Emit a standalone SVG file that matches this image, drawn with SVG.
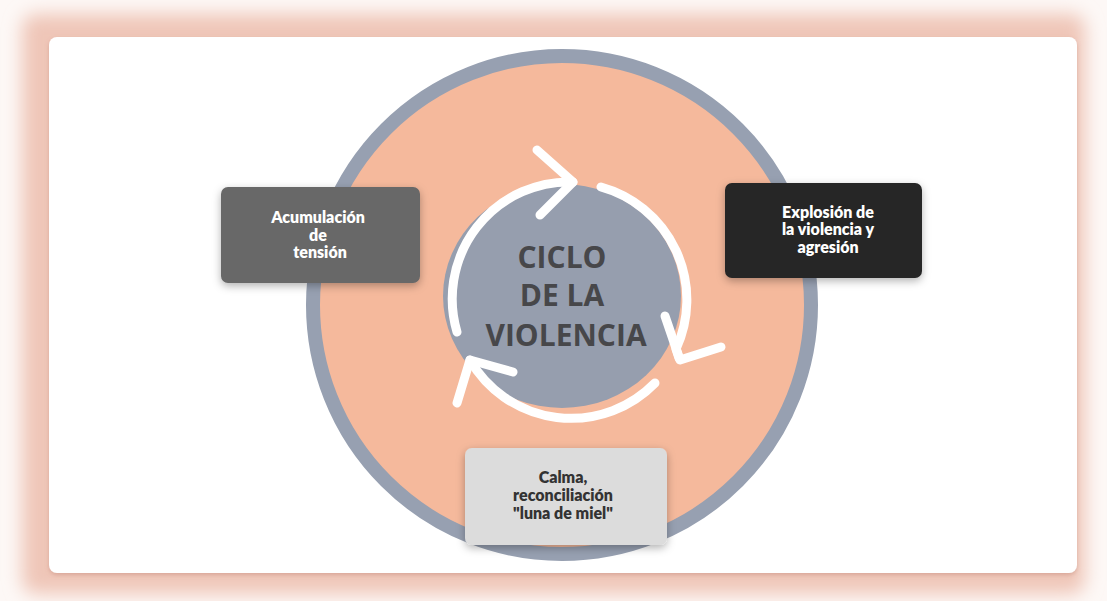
<svg xmlns="http://www.w3.org/2000/svg" width="1107" height="601" viewBox="0 0 1107 601">
  <defs>
    <filter id="glow" x="-10%" y="-10%" width="120%" height="120%">
      <feGaussianBlur stdDeviation="9"/>
    </filter>
    <filter id="shadow" x="-20%" y="-20%" width="140%" height="150%">
      <feDropShadow dx="0" dy="3" stdDeviation="4" flood-color="#000" flood-opacity="0.3"/>
    </filter>
    <filter id="cardshadow" x="-5%" y="-5%" width="110%" height="110%">
      <feDropShadow dx="0" dy="2" stdDeviation="2" flood-color="#b07060" flood-opacity="0.35"/>
    </filter>
  </defs>
  <style>
    .box-text { font-family: Lato, "Noto Sans", "DejaVu Sans", sans-serif; font-weight: 800; font-size: 16px; text-anchor: middle; }
    .title { font-family: "Open Sans", "Noto Sans", sans-serif; font-weight: 700; font-size: 30px; fill: #47474a; text-anchor: middle; }
    .arc { fill: none; stroke: #ffffff; stroke-width: 9; stroke-linecap: round; stroke-linejoin: round; }
  </style>

  <!-- background frame -->
  <rect x="0" y="0" width="1107" height="601" fill="#fdf8f6"/>
  <rect x="22" y="14" width="1063" height="580" rx="14" fill="#efc6b8" filter="url(#glow)"/>
  <rect x="49" y="37" width="1028" height="536" rx="8" fill="#ffffff" filter="url(#cardshadow)"/>

  <!-- big circle -->
  <g id="ring">
    <circle cx="562" cy="305" r="249" fill="#f5b99c" stroke="#97a0b1" stroke-width="14"/>
  </g>

  <!-- center -->
  <g id="center">
    <ellipse cx="562" cy="296" rx="119" ry="112" fill="#969eae"/>
    <text class="title" x="562" y="268">CICLO</text>
    <text class="title" x="562" y="306">DE LA</text>
    <text class="title" x="566" y="346">VIOLENCIA</text>
  </g>

  <!-- connectors -->
  <g id="connectors">
    <path class="arc" d="M457,332 A117,117 0 0 1 573,182"/>
    <polyline class="arc" points="537,150 573,182 540,215"/>
    <path class="arc" d="M601,187 A117,117 0 0 1 676,349 L679,358"/>
    <polyline class="arc" points="665,316 680,360 721,347"/>
    <path class="arc" d="M655,383 A117,117 0 0 1 470,360"/>
    <polyline class="arc" points="457,403 470,360 513,372"/>
  </g>

  <g id="node-acumulacion">
    <rect x="221" y="187" width="199" height="96" rx="7" fill="#676767" filter="url(#shadow)"/>
    <text class="box-text" fill="#ffffff" x="318" y="223">Acumulación</text>
    <text class="box-text" fill="#ffffff" x="318" y="241">de</text>
    <text class="box-text" fill="#ffffff" x="320" y="258">tensión</text>
  </g>

  <g id="node-explosion">
    <rect x="725" y="183" width="197" height="95" rx="7" fill="#252525" filter="url(#shadow)"/>
    <text class="box-text" fill="#ffffff" x="828" y="218">Explosión de</text>
    <text class="box-text" fill="#ffffff" x="828" y="235">la violencia y</text>
    <text class="box-text" fill="#ffffff" x="828" y="253">agresión</text>
  </g>

  <g id="node-calma">
    <rect x="465" y="448" width="202" height="97" rx="7" fill="#dcdcdc" filter="url(#shadow)"/>
    <text class="box-text" fill="#333333" x="563" y="483">Calma,</text>
    <text class="box-text" fill="#333333" x="563" y="501">reconciliación</text>
    <text class="box-text" fill="#333333" x="563" y="519">"luna de miel"</text>
  </g>
</svg>
